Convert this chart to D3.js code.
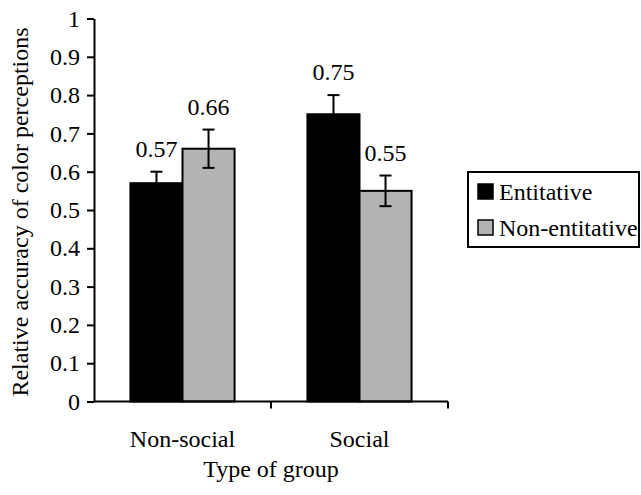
<!DOCTYPE html>
<html>
<head>
<meta charset="utf-8">
<script src="https://cdn.jsdelivr.net/npm/d3@7"></script>
</head>
<body style="margin:0">
<svg id="chart" width="641" height="495"></svg>
<script>
const categories = ["Non-social", "Social"];
const seriesNames = ["Entitative", "Non-entitative"];
const entitative = [0.57, 0.75];
const nonEntitative = [0.66, 0.55];
const entitativeErr = [0.03, 0.05];
const nonEntitativeErr = [0.05, 0.04];
const yTicks = [0, 0.1, 0.2, 0.3, 0.4, 0.5, 0.6, 0.7, 0.8, 0.9, 1];
const yTickLabels = ["0", "0.1", "0.2", "0.3", "0.4", "0.5", "0.6", "0.7", "0.8", "0.9", "1"];
const colors = ["#000000", "#b3b3b3"];

const FS = 24;
const svg = d3.select("#chart");
const plotLeft = 94, plotRight = 448, plotTop = 18.5, plotBottom = 401.5;

const x0 = d3.scaleBand().domain(categories).range([plotLeft, plotRight]).paddingInner(0).paddingOuter(0);
const x1 = d3.scaleBand().domain(seriesNames).range([0, x0.bandwidth()]).paddingInner(0).paddingOuter(0.7);
const y = d3.scaleLinear().domain([0, 1]).range([plotBottom, plotTop]);
const color = d3.scaleOrdinal().domain(seriesNames).range(colors);

function txt(sel) {
  return sel.style("font-family", d => `"Liberation Serif"`).attr("font-size", FS).attr("fill", "#000");
}

const data = categories.map((c, i) => ({
  cat: c,
  vals: [
    { s: seriesNames[0], v: entitative[i], e: entitativeErr[i] },
    { s: seriesNames[1], v: nonEntitative[i], e: nonEntitativeErr[i] }
  ]
}));

// bars
const groups = svg.append("g").selectAll("g").data(data).join("g")
  .attr("transform", d => `translate(${x0(d.cat)},0)`);
groups.selectAll("rect").data(d => d.vals).join("rect")
  .attr("x", d => x1(d.s))
  .attr("y", d => y(d.v))
  .attr("width", x1.bandwidth())
  .attr("height", d => y(0) - y(d.v))
  .attr("fill", d => color(d.s))
  .attr("stroke", "#000")
  .attr("stroke-width", 2);

// error bars + value labels
const cap = 6;
groups.selectAll("g.err").data(d => d.vals).join("g").attr("class", "err").each(function(d) {
  const cx = x1(d.s) + x1.bandwidth() / 2;
  const s = d3.select(this);
  s.append("line").attr("x1", cx).attr("x2", cx).attr("y1", y(d.v + d.e)).attr("y2", y(d.v - d.e))
    .attr("stroke", "#000").attr("stroke-width", 2);
  [d.v + d.e, d.v - d.e].forEach(val => {
    s.append("line").attr("x1", cx - cap).attr("x2", cx + cap).attr("y1", y(val)).attr("y2", y(val))
      .attr("stroke", "#000").attr("stroke-width", 2);
  });
  txt(s.append("text").attr("x", cx).attr("y", y(d.v + d.e) - 15)
    .attr("text-anchor", "middle"))
    .text(d3.format(".2f")(d.v));
});

// y axis
const yAxis = d3.axisLeft(y).tickValues(yTicks).tickFormat((d, i) => yTickLabels[i]).tickSize(7).tickSizeOuter(0).tickPadding(7);
const ya = svg.append("g").attr("transform", `translate(${plotLeft},0)`).call(yAxis);
ya.attr("font-family", null).attr("font-size", null);
ya.select(".domain").attr("stroke", "#000").attr("stroke-width", 2);
ya.selectAll(".tick line").attr("stroke", "#000").attr("stroke-width", 2);
txt(ya.selectAll(".tick text"));

// x axis: ticks at band boundaries
const bounds = [plotLeft, x0(categories[1]), plotRight];
svg.append("line").attr("x1", plotLeft).attr("x2", plotRight).attr("y1", plotBottom).attr("y2", plotBottom)
  .attr("stroke", "#000").attr("stroke-width", 2);
bounds.slice(1).forEach(b => {
  svg.append("line").attr("x1", b).attr("x2", b).attr("y1", plotBottom).attr("y2", plotBottom + 7)
    .attr("stroke", "#000").attr("stroke-width", 2);
});
txt(svg.selectAll("text.cat").data(categories).join("text")
  .attr("class", "cat")
  .attr("x", d => x0(d) + x0.bandwidth() / 2)
  .attr("y", 447)
  .attr("text-anchor", "middle")).text(d => d);

// axis titles
txt(svg.append("text").attr("x", (plotLeft + plotRight) / 2).attr("y", 477)
  .attr("text-anchor", "middle")).text("Type of group");
txt(svg.append("text").attr("transform", `translate(28,${(plotTop + plotBottom) / 2 + 2}) rotate(-90)`)
  .attr("text-anchor", "middle")).text("Relative accuracy of color perceptions");

// legend
const lg = svg.append("g");
lg.append("rect").attr("x", 468).attr("y", 172).attr("width", 171).attr("height", 75)
  .attr("fill", "#fff").attr("stroke", "#000").attr("stroke-width", 2);
seriesNames.forEach((s, i) => {
  const yy = 184 + i * 36;
  lg.append("rect").attr("x", 478).attr("y", yy).attr("width", 15).attr("height", 15)
    .attr("fill", color(s)).attr("stroke", "#000").attr("stroke-width", 1.5);
  txt(lg.append("text").attr("x", 499).attr("y", yy + 16)).text(s);
});
</script>
</body>
</html>
